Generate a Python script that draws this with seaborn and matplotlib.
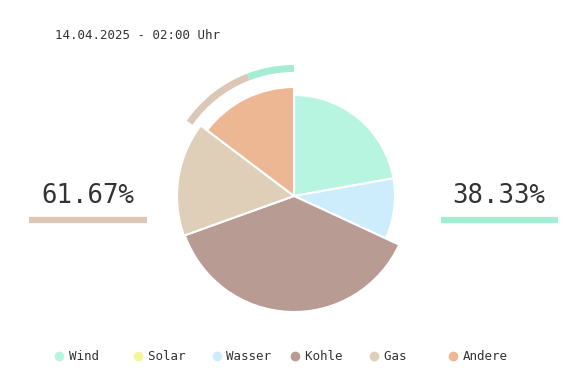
import numpy as np
import pandas as pd
import matplotlib
matplotlib.use('Agg')
import matplotlib.pyplot as plt
import seaborn as sns
from matplotlib.patches import Wedge
from matplotlib.lines import Line2D

# Strommix at one point in time (shares in %)
sources = ['Wind', 'Solar', 'Wasser', 'Kohle', 'Gas', 'Andere']
shares = [22.2, 0.0, 9.7, 37.6, 15.8, 14.7]
renewable_share = 38.33
fossil_share = 61.67
timestamp = '14.04.2025 - 02:00 Uhr'

# styling
colours = {'Wind': '#b8f5e0', 'Solar': '#f7f59c', 'Wasser': '#cdedfc',
           'Kohle': '#b89c93', 'Gas': '#dfcfb8', 'Andere': '#ecb792'}
slice_radius = {'Wind': 101, 'Solar': 101, 'Wasser': 101,
                'Kohle': 116, 'Gas': 117, 'Andere': 109}
ren_colour = '#a3eed3'
fos_colour = '#dcc6b6'
text_colour = '#333333'
W, H = 588, 392
cx, cy = 294, 196

sns.set_theme(style='white')
plt.rcParams['font.family'] = ['DejaVu Sans Mono']

fig = plt.figure(figsize=(W / 100, H / 100), dpi=100)
ax = fig.add_axes([0, 0, 1, 1])

df = pd.DataFrame({'source': sources, 'share': shares})
shown = df[df['share'] > 0].reset_index(drop=True)

wedges, _ = ax.pie(shown['share'], colors=[colours[s] for s in shown['source']],
                   startangle=90, counterclock=False, center=(cx, cy), radius=100,
                   wedgeprops=dict(edgecolor='white', linewidth=1.5))
for w, src in zip(wedges, shown['source']):
    w.set_radius(slice_radius[src])

# outer arc over the last slice, split renewable / fossil
last = wedges[-1]
arc_start = min(last.theta1, last.theta2)
arc_end = max(last.theta1, last.theta2) + 2
split = arc_start + (arc_end - arc_start) * renewable_share / 100
ax.add_patch(Wedge((cx, cy), 131, arc_start, split, width=7, color=ren_colour, lw=0))
ax.add_patch(Wedge((cx, cy), 131, split, arc_end, width=7, color=fos_colour, lw=0))

ax.set_xlim(0, W)
ax.set_ylim(0, H)
ax.set_aspect('equal')
ax.axis('off')

# side numbers
ax.text(88, H - 196, f'{fossil_share:.2f}%', ha='center', va='center',
        fontsize=18.5, color=text_colour)
ax.hlines(H - 220, 29, 147, color=fos_colour, lw=4.5)
ax.text(499, H - 196, f'{renewable_share:.2f}%', ha='center', va='center',
        fontsize=18.5, color=text_colour)
ax.hlines(H - 220, 441, 558, color=ren_colour, lw=4.5)

ax.text(55, H - 35, timestamp, ha='left', va='center', fontsize=9, color=text_colour)

handles = [Line2D([], [], marker='o', ls='', color=colours[s], markersize=6)
           for s in sources]
labels = [s.ljust(6) for s in sources]
leg = fig.legend(handles, labels, loc='center left', bbox_to_anchor=(54 / W, 1 - 357 / H),
                 ncol=6, frameon=False, fontsize=9, handlelength=0.8, handletextpad=0.4,
                 columnspacing=1.5, borderaxespad=0, borderpad=0)
for t in leg.get_texts():
    t.set_color(text_colour)

plt.savefig('out.png', dpi=100, facecolor='white')
